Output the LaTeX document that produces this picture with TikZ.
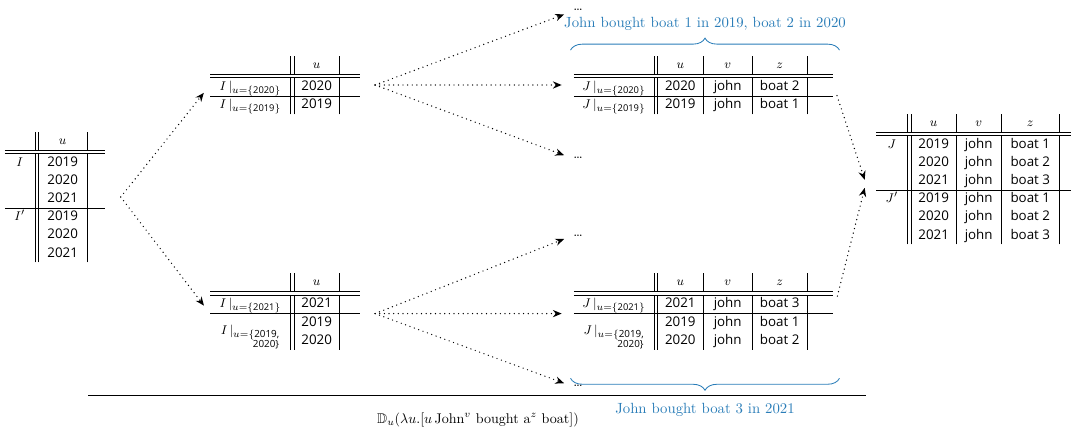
\documentclass[tikz,border=0pt]{standalone}
\usepackage{amsmath,amssymb}
\usepackage{array}
\usepackage{fontspec}
\setsansfont{Open Sans}
\usepackage{tikz}
\usetikzlibrary{arrows.meta,positioning,calc,decorations.pathreplacing}
\definecolor{Note}{HTML}{2A7DB8}
\newcolumntype{C}[1]{>{\centering\arraybackslash}p{#1}}
\newcommand{\yr}[1]{\text{\sffamily #1}}
\newcommand{\twoyr}{\text{\scriptsize\renewcommand{\arraystretch}{0.8}\begin{tabular}[t]{@{}r@{}}$u{=}\{$2019,\\ 2020\}\end{tabular}}}
\setlength{\tabcolsep}{0pt}
\renewcommand{\arraystretch}{1.07}

\begin{document}
\begin{tikzpicture}[>=Stealth,
    tab/.style={inner sep=0pt,font=\sffamily\fontsize{9.5}{12}\selectfont},
    flow/.style={-{Stealth[length=2.2mm,width=1.8mm]},line width=1pt,dash pattern=on 0pt off 3.3pt,line cap=round},
    more/.style={inner sep=1pt},
    brace/.style={draw=Note,line width=0.6pt,decorate,decoration={brace,amplitude=0.3cm}},
    note/.style={text=Note,font=\fontsize{10.5}{12}\selectfont}]
    \useasboundingbox (0,0) rectangle (26.775,-10.875);

    % starting relation
    \node[tab] (lt) at (1.375,-4.925) {\begin{tabular}{C{0.75cm}||C{1.2cm}|C{0.45cm}}
      & $u$ & \\ \hline\hline
      $I$ & 2019 & \\
      & 2020 & \\
      & 2021 & \\ \hline
      $I'$ & 2019 & \\
      & 2020 & \\
      & 2021 & \\
    \end{tabular}};

    % split on u
    \node[tab] (mt1) at (7.125,-2.125) {\begin{tabular}{C{2.0cm}||C{1.12cm}|C{0.5cm}}
      & $u$ & \\ \hline\hline
      $I\,|_{u=\{\yr{2020}\}}$ & 2020 & \\ \hline
      $I\,|_{u=\{\yr{2019}\}}$ & 2019 & \\
    \end{tabular}};
    \node[tab] (mt2) at (7.125,-7.79) {\begin{tabular}{C{2.0cm}||C{1.12cm}|C{0.5cm}}
      & $u$ & \\ \hline\hline
      $I\,|_{u=\{\yr{2021}\}}$ & 2021 & \\ \hline
      \smash{\raisebox{-0.2cm}{$I\,|_{\twoyr}$}} & 2019 & \\
      & 2020 & \\
    \end{tabular}};

    % extended relations
    \node[tab] (jt1) at (17.59,-2.125) {\begin{tabular}{C{2.0cm}||C{1.12cm}|C{1.22cm}|C{1.35cm}|C{0.65cm}}
      & $u$ & $v$ & $z$ & \\ \hline\hline
      $J\,|_{u=\{\yr{2020}\}}$ & 2020 & john & boat 2 & \\ \hline
      $J\,|_{u=\{\yr{2019}\}}$ & 2019 & john & boat 1 & \\
    \end{tabular}};
    \node[tab] (jt2) at (17.59,-7.79) {\begin{tabular}{C{2.0cm}||C{1.12cm}|C{1.22cm}|C{1.35cm}|C{0.65cm}}
      & $u$ & $v$ & $z$ & \\ \hline\hline
      $J\,|_{u=\{\yr{2021}\}}$ & 2021 & john & boat 3 & \\ \hline
      \smash{\raisebox{-0.2cm}{$J\,|_{\twoyr}$}} & 2019 & john & boat 1 & \\
      & 2020 & john & boat 2 & \\
    \end{tabular}};

    % result
    \node[tab] (rt) at (24.425,-4.475) {\begin{tabular}{C{0.78cm}||C{1.12cm}|C{1.1cm}|C{1.45cm}|C{0.45cm}}
      & $u$ & $v$ & $z$ & \\ \hline\hline
      $J$ & 2019 & john & boat 1 & \\
      & 2020 & john & boat 2 & \\
      & 2021 & john & boat 3 & \\ \hline
      $J'$ & 2019 & john & boat 1 & \\
      & 2020 & john & boat 2 & \\
      & 2021 & john & boat 3 & \\
    \end{tabular}};

    % other branches
    \node[more] (d1) at (14.45,-0.24) {\dots};
    \node[more] (d2) at (14.45,-3.95) {\dots};
    \node[more] (d3) at (14.45,-5.9) {\dots};
    \node[more] (d4) at (14.45,-9.65) {\dots};

    \coordinate (lo) at ([xshift=0.38cm]lt.east);
    \coordinate (mo1) at ([xshift=0.38cm]mt1.east);
    \coordinate (mo2) at ([xshift=0.38cm,yshift=-0.05cm]mt2.east);
    \draw[flow,shorten >=0.25cm] (lo) -- (mt1.west);
    \draw[flow,shorten >=0.25cm] (lo) -- ([yshift=-0.05cm]mt2.west);
    \draw[flow,shorten >=0.2cm] (mo1) -- ([yshift=-0.05cm]d1.west);
    \draw[flow,shorten >=0.3cm] (mo1) -- (jt1.west);
    \draw[flow,shorten >=0.2cm] (mo1) -- (d2.west);
    \draw[flow,shorten >=0.2cm] (mo2) -- (d3.west);
    \draw[flow,shorten >=0.3cm] (mo2) -- ([yshift=-0.05cm]jt2.west);
    \draw[flow,shorten >=0.2cm] (mo2) -- (d4.west);
    \draw[flow,shorten <=0.28cm] (jt1.east) -- ([xshift=-0.28cm,yshift=-0.02cm]rt.west);
    \draw[flow,shorten <=0.4cm] (jt2.east) -- ([xshift=-0.28cm,yshift=-0.22cm]rt.west);

    % readings
    \draw[brace] ([xshift=-0.08cm,yshift=0.13cm]jt1.north west) -- ([xshift=0.15cm,yshift=0.13cm]jt1.north east);
    \node[note] (b1) at (17.625,-0.59) {John bought boat 1 in 2019, boat 2 in 2020};
    \draw[brace] ([xshift=0.15cm,yshift=-0.7cm]jt2.south east) -- ([xshift=-0.08cm,yshift=-0.7cm]jt2.south west);
    \node[note] (b2) at (17.625,-10.25) {John bought boat 3 in 2021};

    \coordinate (r1) at (2.2,-9.875);
    \coordinate (r2) at (21.65,-9.875);
    \draw[line width=0.6pt] (r1) -- (r2);
    \node (fm) at (11.95,-10.5) {$\mathbb{D}_u(\lambda u.[u\,\text{John}^v\text{ bought a}^z\text{ boat}])$};
  \end{tikzpicture}
\end{document}
